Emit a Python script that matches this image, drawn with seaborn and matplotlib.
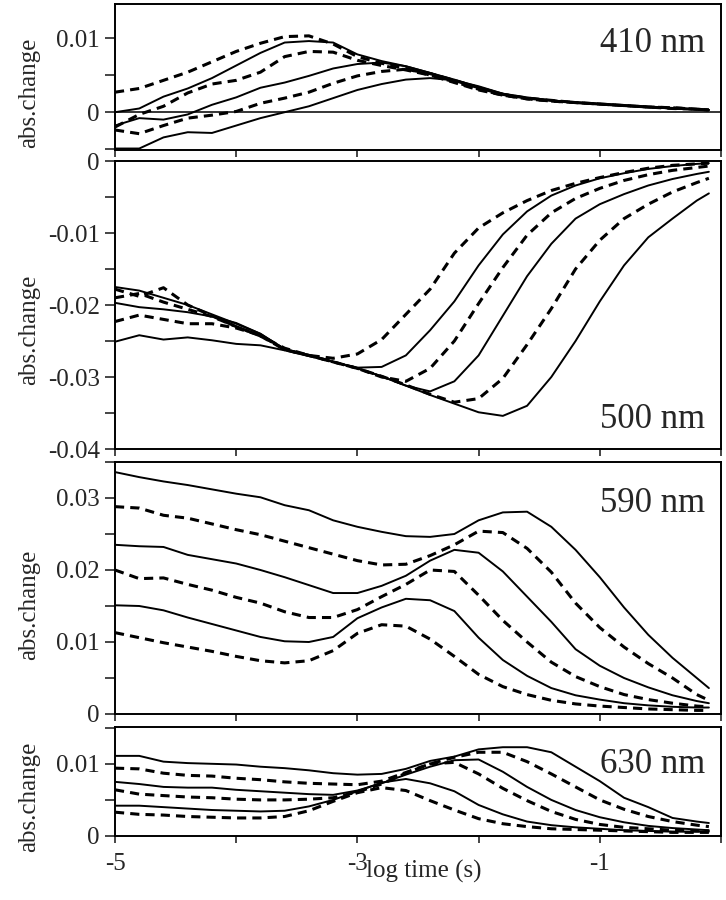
import numpy as np
import pandas as pd
import matplotlib
matplotlib.use("Agg")
import matplotlib.pyplot as plt
import seaborn as sns
from matplotlib.ticker import MultipleLocator, FixedLocator, FuncFormatter

sns.set_style("ticks")
plt.rcParams['font.family'] = ['Liberation Serif', 'DejaVu Serif']
plt.rcParams['axes.unicode_minus'] = False
plt.rcParams['lines.dashed_pattern'] = [3.0, 2.0]

# log time (s) grid
log_t = [-5.0, -4.8, -4.6, -4.4, -4.2, -4.0, -3.8, -3.6, -3.4, -3.2, -3.0, -2.8, -2.6,
         -2.4, -2.2, -2.0, -1.8, -1.6, -1.4, -1.2, -1.0, -0.8, -0.6, -0.4, -0.2, -0.1]
SCALE = 1e-3  # values below are in units of 0.001 abs.change

# ---- 410 nm ----
p410_1 = [2.7, 3.2, 4.3, 5.4, 6.8, 8.2, 9.3, 10.2, 10.3, 9.2, 7.5, 6.6, 5.9, 5.0, 4.0, 3.0, 2.3, 1.8, 1.5, 1.3, 1.1, 0.9, 0.7, 0.6, 0.4, 0.3]
p410_2 = [0.0, 0.5, 2.1, 3.2, 4.6, 6.3, 8.0, 9.4, 9.6, 9.4, 7.8, 6.9, 6.2, 5.3, 4.3, 3.3, 2.4, 1.9, 1.6, 1.3, 1.1, 0.9, 0.7, 0.5, 0.4, 0.3]
p410_3 = [-2.0, -0.3, 0.8, 2.6, 3.8, 4.3, 5.4, 7.5, 8.2, 8.1, 7.0, 6.3, 5.7, 5.0, 4.1, 3.1, 2.3, 1.8, 1.5, 1.3, 1.1, 0.9, 0.7, 0.6, 0.4, 0.3]
p410_4 = [-1.8, -0.8, -1.0, -0.3, 1.0, 2.0, 3.3, 4.0, 4.9, 5.9, 6.5, 6.7, 6.2, 5.3, 4.4, 3.4, 2.5, 1.9, 1.6, 1.3, 1.1, 0.9, 0.7, 0.5, 0.4, 0.3]
p410_5 = [-2.4, -2.9, -1.8, -0.8, -0.4, 0.1, 1.2, 1.9, 2.7, 3.9, 4.9, 5.5, 5.8, 5.2, 4.3, 3.3, 2.4, 1.9, 1.6, 1.3, 1.1, 0.9, 0.7, 0.5, 0.4, 0.3]
p410_6 = [-4.9, -4.9, -3.4, -2.7, -2.8, -1.8, -0.8, 0.0, 0.8, 1.9, 3.0, 3.8, 4.4, 4.6, 4.3, 3.5, 2.5, 2.0, 1.6, 1.3, 1.1, 0.9, 0.7, 0.5, 0.4, 0.3]

# ---- 500 nm ----
p500_1 = [-17.8, -18.8, -17.6, -20.0, -21.5, -23.0, -24.3, -26.0, -27.0, -27.4, -26.8, -24.8, -21.3, -17.8, -12.8, -9.3, -7.2, -5.5, -4.1, -3.1, -2.3, -1.6, -1.0, -0.6, -0.4, -0.3]
p500_2 = [-17.5, -18.0, -19.0, -20.0, -21.3, -22.6, -24.0, -26.1, -27.0, -27.9, -28.7, -28.6, -27.0, -23.5, -19.5, -14.5, -10.2, -7.0, -4.8, -3.4, -2.4, -1.7, -1.1, -0.7, -0.4, -0.3]
p500_3 = [-19.0, -18.4, -19.6, -20.6, -21.6, -23.0, -24.3, -26.2, -27.0, -27.9, -28.8, -30.0, -30.6, -28.8, -25.0, -19.8, -14.8, -10.3, -7.2, -5.2, -3.8, -2.7, -1.9, -1.3, -0.9, -0.7]
p500_4 = [-19.7, -20.3, -20.6, -21.0, -21.6, -22.5, -24.0, -26.2, -27.0, -27.9, -28.8, -29.9, -31.2, -32.0, -30.6, -27.0, -21.5, -16.0, -11.5, -8.0, -6.0, -4.6, -3.4, -2.5, -1.8, -1.5]
p500_5 = [-22.3, -21.4, -22.0, -22.6, -22.6, -23.2, -24.2, -26.2, -27.0, -27.9, -28.8, -29.9, -31.1, -32.4, -33.5, -33.0, -30.2, -25.5, -20.5, -15.0, -11.0, -8.0, -6.0, -4.3, -3.0, -2.4]
p500_6 = [-25.1, -24.2, -24.8, -24.5, -24.9, -25.4, -25.6, -26.3, -27.1, -27.9, -28.8, -29.9, -31.2, -32.5, -33.7, -34.9, -35.4, -34.0, -30.0, -25.0, -19.5, -14.5, -10.6, -8.0, -5.5, -4.5]

# ---- 590 nm ----
p590_1 = [33.6, 32.9, 32.3, 31.8, 31.2, 30.6, 30.1, 29.0, 28.3, 26.9, 26.0, 25.3, 24.7, 24.6, 25.0, 26.9, 28.0, 28.1, 26.0, 22.8, 19.0, 14.8, 11.0, 7.8, 5.0, 3.6]
p590_2 = [28.8, 28.6, 27.6, 27.2, 26.4, 25.6, 24.9, 24.0, 23.1, 22.2, 21.3, 20.7, 20.8, 22.0, 23.5, 25.4, 25.2, 23.0, 19.7, 15.4, 12.0, 9.3, 7.0, 5.0, 2.7, 1.9]
p590_3 = [23.5, 23.3, 23.2, 22.1, 21.5, 20.9, 20.0, 19.0, 17.9, 16.8, 16.8, 17.8, 19.2, 21.3, 22.8, 22.4, 19.8, 16.3, 12.8, 9.0, 6.7, 5.0, 3.7, 2.6, 1.8, 1.5]
p590_4 = [20.0, 18.8, 18.9, 18.0, 17.2, 16.2, 15.4, 14.2, 13.4, 13.4, 14.5, 16.3, 18.0, 20.0, 19.8, 16.5, 13.0, 10.0, 7.2, 5.2, 3.8, 2.7, 2.0, 1.5, 1.1, 1.0]
p590_5 = [15.1, 15.0, 14.4, 13.4, 12.5, 11.6, 10.7, 10.1, 10.0, 10.7, 13.3, 14.8, 16.0, 15.8, 14.3, 10.6, 7.5, 5.3, 3.6, 2.6, 2.0, 1.5, 1.2, 1.0, 0.9, 0.9]
p590_6 = [11.3, 10.6, 9.9, 9.3, 8.7, 8.0, 7.4, 7.1, 7.4, 8.8, 11.2, 12.4, 12.2, 10.4, 8.0, 5.5, 3.8, 2.7, 1.9, 1.4, 1.1, 0.9, 0.7, 0.6, 0.5, 0.5]

# ---- 630 nm ----
p630_1 = [11.1, 11.1, 10.3, 10.1, 10.0, 9.9, 9.6, 9.4, 9.1, 8.7, 8.5, 8.6, 9.3, 10.4, 11.0, 12.0, 12.3, 12.3, 11.6, 9.6, 7.6, 5.3, 4.0, 2.5, 2.0, 1.8]
p630_2 = [9.4, 9.3, 8.7, 8.4, 8.3, 8.0, 7.8, 7.5, 7.3, 7.2, 7.1, 7.6, 8.8, 10.0, 10.9, 11.6, 11.6, 10.3, 8.6, 6.8, 5.0, 3.7, 2.7, 2.0, 1.5, 1.3]
p630_3 = [7.5, 7.2, 6.8, 6.7, 6.7, 6.4, 6.2, 6.0, 5.8, 5.7, 6.3, 7.3, 8.5, 9.6, 10.5, 10.6, 8.9, 6.8, 5.0, 3.6, 2.6, 1.9, 1.4, 1.1, 0.9, 0.8]
p630_4 = [6.4, 5.8, 5.6, 5.4, 5.3, 5.1, 5.0, 5.0, 5.1, 5.3, 6.1, 7.2, 8.7, 10.0, 10.2, 8.6, 6.6, 4.9, 3.4, 2.3, 1.6, 1.2, 1.0, 0.8, 0.7, 0.7]
p630_5 = [4.2, 4.2, 4.0, 3.8, 3.6, 3.5, 3.4, 3.5, 4.1, 5.0, 6.2, 7.4, 7.9, 7.3, 6.2, 4.3, 3.0, 2.0, 1.5, 1.2, 1.0, 0.8, 0.7, 0.6, 0.6, 0.6]
p630_6 = [3.3, 3.0, 2.9, 2.7, 2.6, 2.5, 2.5, 2.7, 3.5, 4.8, 6.0, 6.7, 6.3, 4.9, 3.6, 2.4, 1.7, 1.3, 1.0, 0.9, 0.8, 0.7, 0.6, 0.5, 0.5, 0.5]

panel_labels = ["410 nm", "500 nm", "590 nm", "630 nm"]
panel_series = [
    [p410_1, p410_2, p410_3, p410_4, p410_5, p410_6],
    [p500_1, p500_2, p500_3, p500_4, p500_5, p500_6],
    [p590_1, p590_2, p590_3, p590_4, p590_5, p590_6],
    [p630_1, p630_2, p630_3, p630_4, p630_5, p630_6],
]
# first curve of the 410/500 panels is dashed; 590/630 start with a solid one
panel_first_dashed = [True, True, False, False]
panel_ylims = [(-0.0051, 0.0146), (-0.04, 0.0), (0.0, 0.035), (0.0, 0.0151)]
panel_major = [[0.0, 0.01], [0.0, -0.01, -0.02, -0.03, -0.04],
               [0.0, 0.01, 0.02, 0.03], [0.0, 0.01]]
xtick_major = [-5, -3, -1]
xtick_minor = [-4, -2, 0]

W, H = 726, 900
fig = plt.figure(figsize=(W / 100, H / 100), dpi=100)
# panel pixel extents (top, bottom)
pix = [(4, 150), (161, 449), (462, 714), (727, 836)]
left_px, right_px = 115, 721
label_y = [0.39, 0.413, 0.433, 0.358]
text_y = [0.671, 0.073, 0.802, 0.578]

fmt = FuncFormatter(lambda v, p: f"{round(v, 4):g}" if abs(v) > 1e-9 else "0")

axes = []
for i in range(4):
    top, bot = pix[i]
    ax = fig.add_axes([left_px / W, 1 - bot / H, (right_px - left_px) / W, (bot - top) / H])
    axes.append(ax)
    if i == 0:
        ax.axhline(0, color="black", lw=1.1, zorder=1)
    for j, vals in enumerate(panel_series[i]):
        dashed = (j % 2 == 0) == panel_first_dashed[i]
        df = pd.DataFrame({"log_t": log_t, "abs": np.array(vals) * SCALE})
        sns.lineplot(data=df, x="log_t", y="abs", ax=ax, color="black",
                     lw=2.2 if dashed else 1.4,
                     linestyle="--" if dashed else "-", errorbar=None)
    ax.set_xlim(-5, 0)
    ax.set_ylim(*panel_ylims[i])
    ax.yaxis.set_major_locator(FixedLocator(panel_major[i]))
    ax.yaxis.set_minor_locator(MultipleLocator(0.005))
    ax.yaxis.set_major_formatter(fmt)
    ax.xaxis.set_major_locator(FixedLocator(xtick_major))
    ax.xaxis.set_minor_locator(FixedLocator(xtick_minor))
    ax.tick_params(axis="y", which="both", direction="out", length=7, width=1.2,
                   labelsize=18, pad=4)
    ax.tick_params(axis="x", which="both", direction="out", length=5, width=1.2,
                   labelsize=18, pad=7)
    if i < 3:
        ax.tick_params(axis="x", labelbottom=False)
    for s in ax.spines.values():
        s.set_linewidth(1.4)
        s.set_color("black")
    ax.set_xlabel("")
    ax.set_ylabel("abs.change", fontsize=18, va="center")
    ax.yaxis.set_label_coords(-0.142, label_y[i])
    ax.text(0.974, text_y[i], panel_labels[i], transform=ax.transAxes,
            ha="right", va="baseline", fontsize=25)

axes[3].set_xlabel("log time (s)", fontsize=18)
axes[3].xaxis.set_label_coords(0.51, -0.215)

fig.savefig("out.png", dpi=100)
